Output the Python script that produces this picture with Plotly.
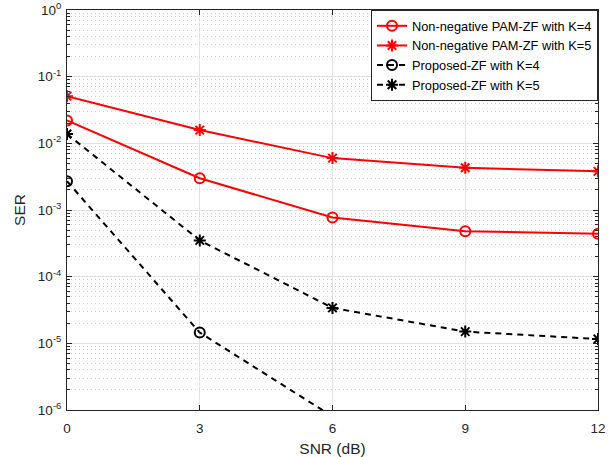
import plotly.graph_objects as go

snr = [0, 3, 6, 9, 12]

# SER curves
pam_zf_k4 = [0.022, 3.0e-3, 7.7e-4, 4.8e-4, 4.4e-4]
pam_zf_k5 = [0.051, 0.0158, 6.0e-3, 4.3e-3, 3.8e-3]
prop_zf_k4 = [2.7e-3, 1.45e-5, 8e-7]
prop_zf_k5 = [0.0138, 3.5e-4, 3.4e-5, 1.5e-5, 1.16e-5]

decades = list(range(-6, 1))
ser_ticks = [10.0 ** e for e in decades]
ser_tick_text = [f"10<sup>{e}</sup>" for e in decades]
ser_minor = [m * 10.0 ** e for e in decades[:-1] for m in range(2, 10)]

series = [
    ("Non-negative PAM-ZF with K=4", snr, pam_zf_k4, "#ff0000", "solid", "circle-open"),
    ("Non-negative PAM-ZF with K=5", snr, pam_zf_k5, "#ff0000", "solid", "asterisk-open"),
    ("Proposed-ZF with K=4", snr[:len(prop_zf_k4)], prop_zf_k4, "#000000", "6px,5px", "circle-open"),
    ("Proposed-ZF with K=5", snr, prop_zf_k5, "#000000", "6px,5px", "asterisk-open"),
]

fig = go.Figure()
for name, x, y, color, dash, sym in series:
    fig.add_trace(go.Scatter(
        x=x, y=y, name=name, mode="lines+markers",
        line=dict(color=color, width=2, dash=dash),
        marker=dict(symbol=sym, size=10, color=color,
                    line=dict(color=color, width=2)),
    ))

font = "Liberation Sans, Arial, Helvetica, sans-serif"
ink = "#262626"
axis_common = dict(
    showline=True, linecolor=ink, linewidth=1, mirror="allticks",
    ticks="inside", ticklen=5, tickcolor=ink,
    showgrid=True, gridcolor="#e3e3e3", gridwidth=1,
    zeroline=False, automargin=False,
    tickfont=dict(family=font, size=13.5, color=ink),
)

fig.update_xaxes(
    **axis_common,
    range=[0, 12], tickvals=snr,
    ticklabelstandoff=6,
    title=dict(text="SNR (dB)", font=dict(family=font, size=15.5, color=ink), standoff=7),
)
fig.update_yaxes(
    **axis_common,
    type="log", range=[-6, 0],
    tickvals=ser_ticks, ticktext=ser_tick_text,
    ticklabelstandoff=2,
    minor=dict(tickvals=ser_minor, ticks="inside", ticklen=3, tickcolor=ink,
               showgrid=True, gridcolor="#cfcfcf", griddash="1px,3px", gridwidth=1),
    title=dict(text="SER", font=dict(family=font, size=15.5, color=ink), standoff=8),
)

fig.update_layout(
    width=609, height=457,
    margin=dict(l=67, r=11, t=10, b=47),
    paper_bgcolor="white", plot_bgcolor="white",
    showlegend=True,
    legend=dict(
        x=1, y=1, xanchor="right", yanchor="top",
        bgcolor="white", bordercolor=ink, borderwidth=1,
        font=dict(family=font, size=12.8, color="#000000"),
        tracegroupgap=0, itemwidth=30,
    ),
    font=dict(family=font),
)

fig.write_html("out.html")
